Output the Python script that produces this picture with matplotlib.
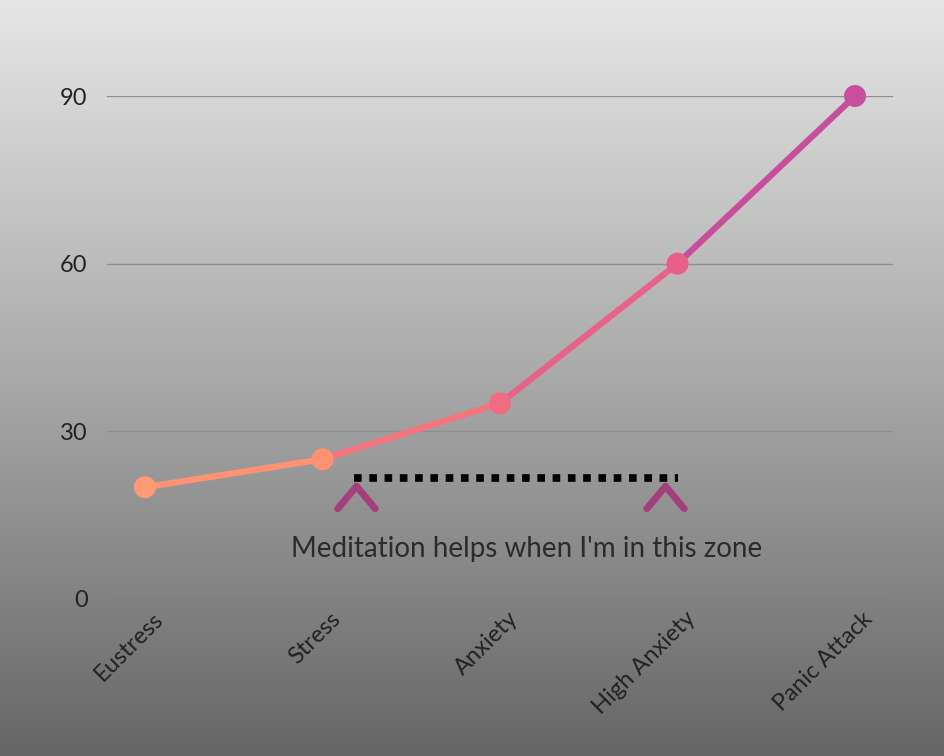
import matplotlib.pyplot as plt
import numpy as np
from matplotlib.path import Path
from matplotlib.markers import MarkerStyle
from matplotlib.transforms import ScaledTranslation

plt.rcParams['font.family'] = ['Lato', 'DejaVu Sans']

# Data
stages = ['Eustress', 'Stress', 'Anxiety', 'High Anxiety', 'Panic Attack']
levels = [20, 25, 35, 60, 90]
segment_colors = ['#ff9272', '#f7747c', '#e8628a', '#c84e9c']
point_colors = ['#ff9a74', '#ff9272', '#f06c82', '#e8608a', '#c84e9e']
y_ticks = [0, 30, 60, 90]

zone_start, zone_end = 1.18, 3.0
zone_level = 21.6
chevron_x = [1.19, 2.93]
chevron_level = 18.3
note = "Meditation helps when I'm in this zone"

fig = plt.figure(figsize=(9.45, 7.56), dpi=100)

# background gradient
bg = fig.add_axes([0, 0, 1, 1], zorder=-1)
grad = np.linspace(0, 1, 256).reshape(-1, 1)
bg.imshow(grad, aspect='auto', cmap=plt.matplotlib.colors.LinearSegmentedColormap.from_list(
    'bg', ['#e6e6e6', '#a9a9a9', '#666666']), extent=[0, 1, 0, 1])
bg.axis('off')

ax = fig.add_axes([0.1132, 0.2077, 0.8318, 0.6653])
ax.patch.set_alpha(0)
ax.set_xlim(-0.214, 4.214)
ax.set_ylim(0, 90)

for y in y_ticks:
    ax.axhline(y, color='#8f8f8f' if y else '#7a7a7a', lw=1, zorder=1)

x = np.arange(len(stages))
for i in range(len(stages) - 1):
    ax.plot(x[i:i + 2], levels[i:i + 2], color=segment_colors[i], lw=4.5,
            solid_capstyle='round', zorder=3, clip_on=False)
ax.scatter(x, levels, s=220, c=point_colors, zorder=4, clip_on=False)

# zone marker
ax.plot([zone_start, zone_end], [zone_level, zone_level], color='black',
        lw=5.5, linestyle=(0, (1, 1)), zorder=3)
chevron = Path([(-1, -0.6), (0, 0.6), (1, -0.6)], [Path.MOVETO, Path.LINETO, Path.LINETO])
chev_style = MarkerStyle(chevron, joinstyle='round', capstyle='round')
ax.plot(chevron_x, [chevron_level] * 2, linestyle='none', marker=chev_style,
        markersize=27, markerfacecolor='none', markeredgecolor='#a3407c',
        markeredgewidth=5, zorder=3)
ax.text(2.15, 9, note, ha='center', va='center', fontsize=20, color='#2b2b2b')

# category labels, drawn as text so they can sit a bit right of the tick
ax.set_xticks(x)
ax.set_xticklabels([])
shift = ScaledTranslation(7 / 100, -9 / 100, fig.dpi_scale_trans)
for xi, name in zip(x, stages):
    ax.text(xi, 0, name, transform=ax.transData + shift, rotation=45,
            ha='right', va='top', rotation_mode='anchor', fontsize=17,
            color='#222222', clip_on=False)
ax.set_yticks(y_ticks)
ax.set_yticklabels([str(v) for v in y_ticks], fontsize=17, color='#222222')
ax.tick_params(axis='y', length=0, pad=14)
ax.tick_params(axis='x', length=0)
for s in ax.spines.values():
    s.set_visible(False)

fig.savefig('out.png', dpi=100)
